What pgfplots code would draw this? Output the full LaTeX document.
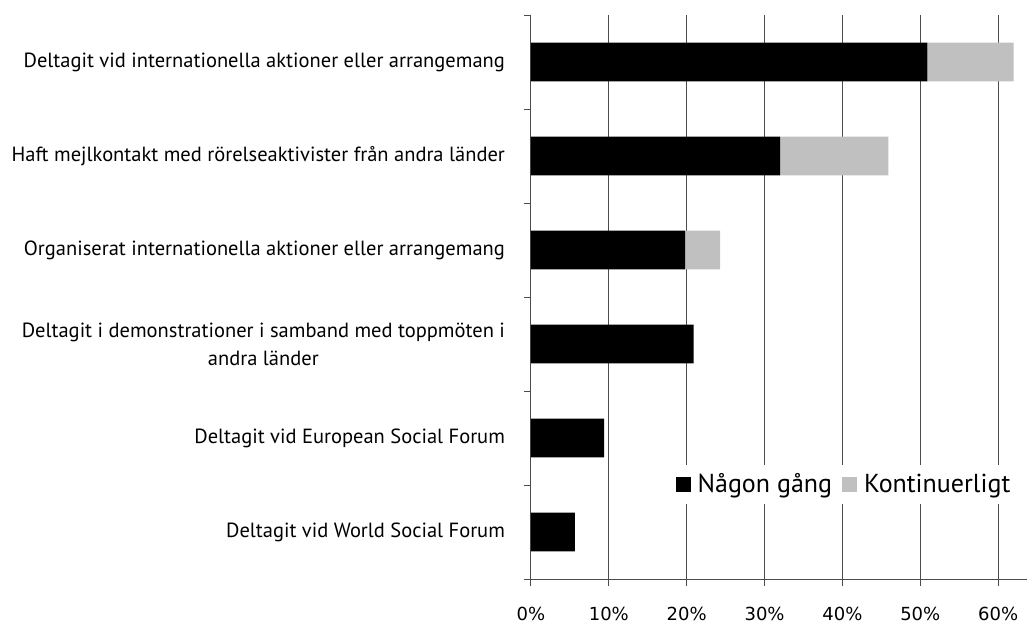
\documentclass[border=0pt]{standalone}
\usepackage{pgfplots}
\pgfplotsset{compat=1.18}
\usepackage{fontspec}
\setmainfont{PT Sans}
\newfontfamily\tickfont{DejaVu Sans}
\definecolor{lightbar}{HTML}{C0C0C0}
\begin{document}
\begin{tikzpicture}
\useasboundingbox (-265.5pt,-22pt) rectangle (248pt,289.5pt);
\begin{axis}[
  at={(0,0)}, anchor=south west,
  scale only axis, width=248pt, height=282pt,
  xbar stacked, bar width=19.35pt,
  xmin=0, xmax=63.71, ymin=-0.5, ymax=5.5, y dir=reverse,
  axis x line=bottom, axis y line=left,
  axis line style={-, black!70, line width=0.5pt},
  xtick={0,10,20,30,40,50,60},
  xticklabels={0\%,10\%,20\%,30\%,40\%,50\%,60\%},
  xticklabel style={font=\tickfont\fontsize{9}{11}\selectfont, yshift=-7pt},
  xmajorgrids, grid style={black!70, line width=0.5pt},
  tick align=outside, major tick length=3.5pt, minor tick length=3.5pt,
  tick style={black!70, line width=0.5pt},
  ytick={0,1,2,3,4,5},
  major y tick style={draw=none},
  minor ytick={-0.5,0.5,1.5,2.5,3.5,4.5,5.5},
  yticklabels={Deltagit vid internationella aktioner eller arrangemang,
    Haft mejlkontakt med rörelseaktivister från andra länder,
    Organiserat internationella aktioner eller arrangemang,
    {Deltagit i demonstrationer i samband med toppmöten i\\andra länder},
    Deltagit vid European Social Forum,
    Deltagit vid World Social Forum},
  yticklabel style={align=center, font=\fontsize{10.25}{14}\selectfont, xshift=-6pt},
  legend style={at={(0.633,0.1676)}, anchor=center, draw=none, fill=white,
    font=\fontsize{13}{15}\selectfont,
    /tikz/every even column/.append style={column sep=3pt}},
  legend columns=2,
]
\addplot[fill=black, draw=none,
  legend image code/.code={\fill[black] (0pt,-3.75pt) rectangle (7.5pt,3.75pt); \path (9pt,0pt);}]
  coordinates {(50.9,0) (32.0,1) (19.8,2) (20.9,3) (9.38,4) (5.65,5)};
\addplot[fill=lightbar, draw=none,
  legend image code/.code={\fill[lightbar] (0pt,-3.75pt) rectangle (7.5pt,3.75pt); \path (9pt,0pt);}]
  coordinates {(11.1,0) (13.9,1) (4.5,2) (0,3) (0,4) (0,5)};
\legend{Någon gång, Kontinuerligt}
\end{axis}
\end{tikzpicture}
\end{document}
